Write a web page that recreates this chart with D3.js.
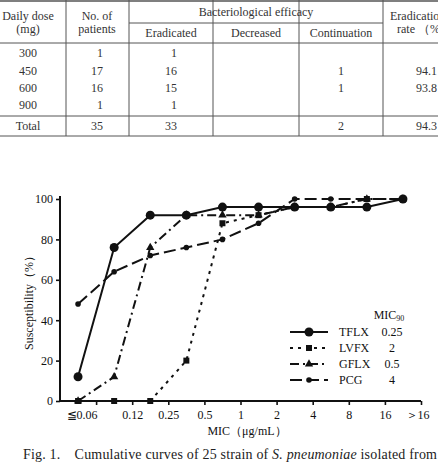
<!DOCTYPE html>
<html>
<head>
<meta charset="utf-8">
<script src="https://d3js.org/d3.v7.min.js"></script>
<style>
  body { margin: 0; background: #fff; }
  svg text { font-family: 'Liberation Serif', 'DejaVu Serif', serif; }
</style>
</head>
<body>
<script>
// table data
var doses = ['300', '450', '600', '900'];
var patients = [1, 17, 16, 1];
var eradicated = [1, 16, 15, 1];
var continuation = ['', 1, 1, ''];
var rates = ['', '94.1', '93.8', ''];
var totalRow = ['Total', 35, 33, 2, '94.3'];

// chart data (cumulative % of 25 strains)
var micLabels = ['≦0.06', '0.12', '0.25', '0.5', '1', '2', '4', '8', '16', '＞16'];
var tflx = [12, 76, 92, 92, 96, 96, 96, 96, 96, 100];
var lvfx = [0, 0, 0, 20, 88, 92, 96, 96, 100, 100];
var gflx = [0, 12, 76, 92, 92, 92, 96, 96, 100, 100];
var pcg = [48, 64, 72, 76, 80, 88, 100, 100, 100, 100];
var drugs = ['TFLX', 'LVFX', 'GFLX', 'PCG'];
var mic90 = ['0.25', '2', '0.5', '4'];

var W = 438, H = 462;
var svg = d3.select('body').append('svg').attr('width', W).attr('height', H);

// ---------- table ----------
var tg = svg.append('g').style('font-size', '12px').style('fill', '#333');
var colX = [66, 129, 213, 299, 383];
var lineCol = '#555';
function hline(y, x1, x2, w) {
  tg.append('line').attr('x1', x1).attr('x2', x2).attr('y1', y).attr('y2', y)
    .attr('stroke', lineCol).attr('stroke-width', w || 1);
}
hline(1, 0, W, 1.5);
hline(23, 129, 383);
hline(43, 0, W);
hline(116, 0, W);
hline(136, 0, W);
colX.forEach(function (x) {
  tg.append('line').attr('x1', x).attr('x2', x).attr('y1', 0).attr('y2', 136)
    .attr('stroke', lineCol).attr('stroke-width', 1);
});
function cell(txt, x, y, anchor) {
  tg.append('text').attr('x', x).attr('y', y).attr('text-anchor', anchor || 'middle').text(txt);
}
cell('Daily dose', 28, 20); cell('(mg)', 28, 33);
cell('No. of', 97, 20); cell('patients', 97, 33);
cell('Bacteriological efficacy', 256, 16);
cell('Eradicated', 171, 37); cell('Decreased', 256, 37); cell('Continuation', 341, 37);
cell('Eradication', 390, 20, 'start'); cell('rate （%）', 397, 33, 'start');

var rowY = [57, 75, 92, 109];
doses.forEach(function (d, i) {
  cell(d, 28, rowY[i]);
  cell(patients[i], 103, rowY[i], 'end');
  cell(eradicated[i], 177, rowY[i], 'end');
  cell(continuation[i], 344, rowY[i], 'end');
  cell(rates[i], 437, rowY[i], 'end');
});
cell(totalRow[0], 28, 130);
cell(totalRow[1], 103, 130, 'end');
cell(totalRow[2], 177, 130, 'end');
cell(totalRow[3], 344, 130, 'end');
cell(totalRow[4], 437, 130, 'end');

// ---------- chart ----------
var x0 = 60, x1 = 421, y0 = 401, y1 = 199;
var step = (x1 - x0) / micLabels.length;
var x = d3.scalePoint().domain(d3.range(micLabels.length)).range([x0 + step / 2, x1 - step / 2]);
var xTick = d3.scalePoint().domain(d3.range(micLabels.length)).range([x0 + step, x1]);
var y = d3.scaleLinear().domain([0, 100]).range([y0, y1]);

var g = svg.append('g').style('font-size', '12px');
var ink = '#111';

// axes
var yAxis = g.append('g').attr('transform', 'translate(' + x0 + ',0)')
  .call(d3.axisLeft(y).tickValues([0, 20, 40, 60, 80, 100]).tickSize(4).tickSizeOuter(0).tickPadding(3));
var xAxis = g.append('g').attr('transform', 'translate(0,' + y0 + ')')
  .call(d3.axisBottom(xTick).tickSize(4).tickSizeOuter(0).tickPadding(5).tickFormat(function (i) { return micLabels[i]; }));
[yAxis, xAxis].forEach(function (a) {
  a.select('.domain').remove();
  a.selectAll('line').attr('stroke', ink).attr('stroke-width', 1.6);
  a.selectAll('text').attr('fill', ink).style('font-family', "'Liberation Serif', 'DejaVu Serif', serif").style('font-size', '12px');
});
xAxis.selectAll('text').attr('text-anchor', function (i) { return i === 0 ? 'end' : 'middle'; })
  .attr('dx', function (i) { return i === 0 ? 1 : (i === micLabels.length - 1 ? -4 : 0); });
g.append('line').attr('x1', x0).attr('x2', x0).attr('y1', y0 + 1).attr('y2', y1 - 3)
  .attr('stroke', ink).attr('stroke-width', 2);
g.append('line').attr('x1', x0 - 1).attr('x2', x1).attr('y1', y0).attr('y2', y0)
  .attr('stroke', ink).attr('stroke-width', 2);

g.append('text').attr('transform', 'translate(33,300) rotate(-90)').attr('text-anchor', 'middle')
  .attr('fill', ink).text('Susceptibility（%）');
g.append('text').attr('x', 247).attr('y', 435).attr('text-anchor', 'middle')
  .attr('fill', ink).text('MIC（μg/mL）');

// series
var series = [
  { name: 'PCG', values: pcg, dash: '12,5', marker: 'smallcircle' },
  { name: 'GFLX', values: gflx, dash: '9,4,2,4', marker: 'triangle' },
  { name: 'LVFX', values: lvfx, dash: '3,5', marker: 'square' },
  { name: 'TFLX', values: tflx, dash: null, marker: 'circle' }
];

function drawMarker(sel, type, cx, cy) {
  if (type === 'circle') {
    sel.append('circle').attr('cx', cx).attr('cy', cy).attr('r', 4.5).attr('fill', ink);
  } else if (type === 'smallcircle') {
    sel.append('circle').attr('cx', cx).attr('cy', cy).attr('r', 2.8).attr('fill', ink);
  } else if (type === 'square') {
    sel.append('path').attr('d', d3.symbol(d3.symbolSquare, 36)()).attr('transform', 'translate(' + cx + ',' + cy + ')').attr('fill', ink);
  } else {
    sel.append('path').attr('d', d3.symbol(d3.symbolTriangle, 30)()).attr('transform', 'translate(' + cx + ',' + cy + ')').attr('fill', ink);
  }
}

var line = d3.line().x(function (d, i) { return x(i); }).y(function (d) { return y(d); });
series.forEach(function (s) {
  g.append('path').attr('d', line(s.values)).attr('fill', 'none').attr('stroke', ink)
    .attr('stroke-width', 2).attr('stroke-dasharray', s.dash);
  var mg = g.append('g');
  s.values.forEach(function (v, i) { drawMarker(mg, s.marker, x(i), y(v)); });
});

// legend
var lg = g.append('g');
var mt = lg.append('text').attr('x', 389).attr('y', 319).attr('text-anchor', 'middle').attr('fill', ink);
mt.append('tspan').text('MIC');
mt.append('tspan').attr('dy', 2).style('font-size', '8px').text('90');
var legOrder = ['TFLX', 'LVFX', 'GFLX', 'PCG'];
legOrder.forEach(function (name, i) {
  var s = series.filter(function (d) { return d.name === name; })[0];
  var ly = 332 + i * 16;
  lg.append('line').attr('x1', 290).attr('x2', 328).attr('y1', ly).attr('y2', ly)
    .attr('stroke', ink).attr('stroke-width', 2).attr('stroke-dasharray', s.dash);
  drawMarker(lg, s.marker, 309, ly);
  lg.append('text').attr('x', 339).attr('y', ly + 4).attr('fill', ink).text(drugs[i]);
  lg.append('text').attr('x', 392).attr('y', ly + 4).attr('text-anchor', 'middle').attr('fill', ink).text(mic90[i]);
});

// caption
var cap = svg.append('text').attr('x', 23).attr('y', 459).style('font-size', '14px').attr('fill', '#222')
  .attr('textLength', 414).attr('lengthAdjust', 'spacing');
cap.append('tspan').text('Fig. 1.　Cumulative curves of 25 strain of ');
cap.append('tspan').style('font-style', 'italic').text('S. pneumoniae');
cap.append('tspan').text(' isolated from');
</script>
</body>
</html>
